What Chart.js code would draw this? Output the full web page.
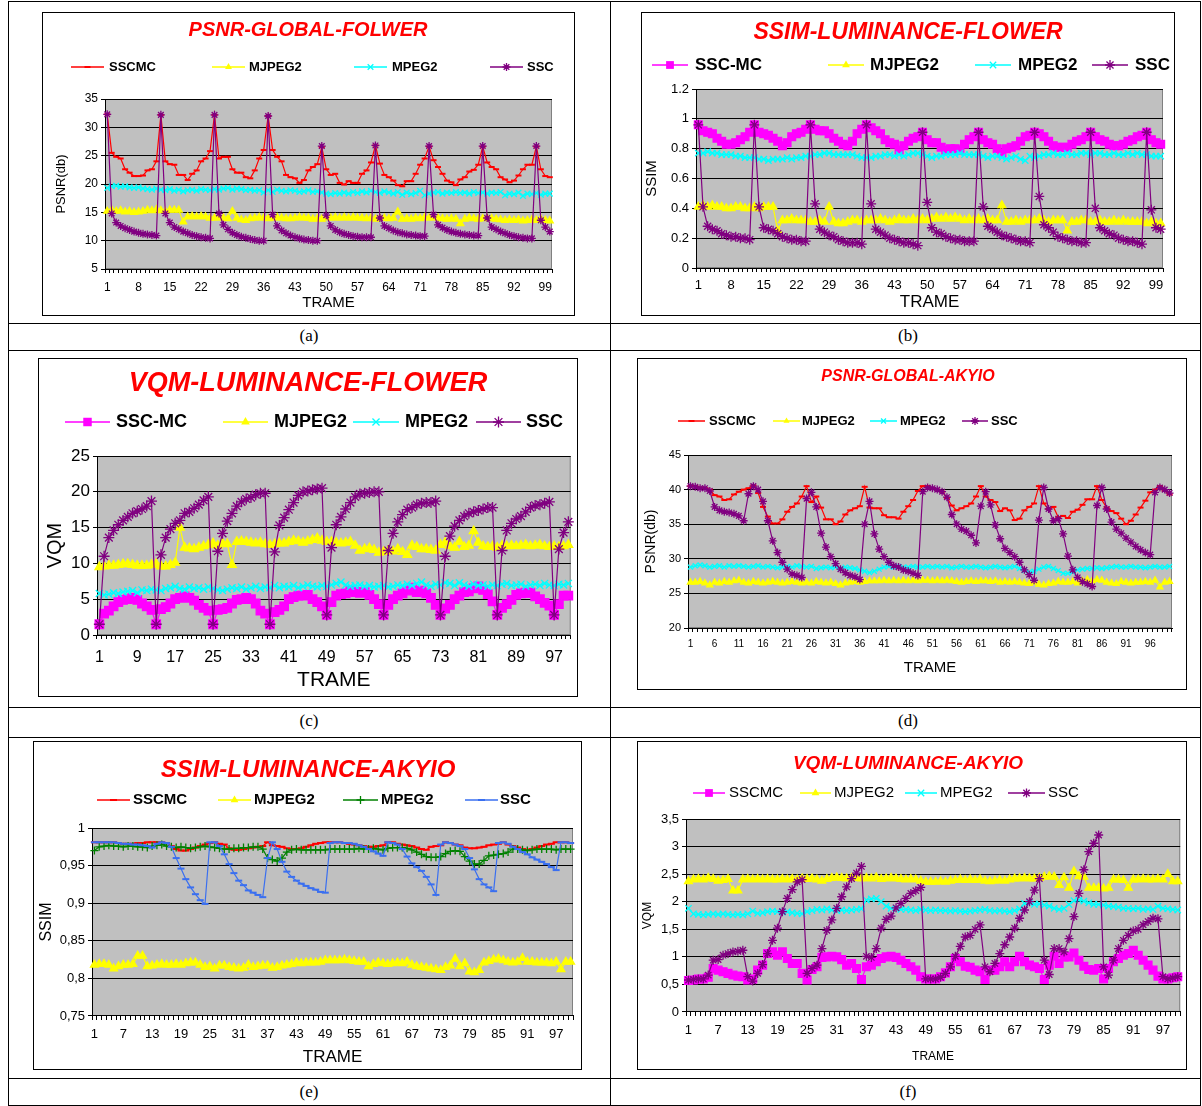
<!DOCTYPE html>
<html>
<head>
<meta charset="utf-8">
<script src="https://cdn.jsdelivr.net/npm/chart.js@4.4.1/dist/chart.umd.min.js"></script>
<style>
body { margin: 0; background: #fff; width: 1202px; height: 1106px; position: relative; overflow: hidden; }
.ln { position: absolute; background: #000; }
.cap { position: absolute; width: 80px; text-align: center; font: 17px "Liberation Serif", serif; }
</style>
</head>
<body>
<script>
const FONT = '"Liberation Sans", Arial, sans-serif';
const frames = Array.from({ length: 100 }, (_, i) => String(i + 1));

// (a) PSNR-GLOBAL-FOLWER
const psnrFlowerSSCMC = [
  32.3, 25.5, 24.8, 24.5, 22.6, 22.0, 21.4, 21.4, 21.5, 22.4, 22.6, 24.0,
  32.2, 24.0, 23.5, 23.4, 21.6, 21.6, 20.7, 21.8, 22.4, 24.0, 24.5, 25.8,
  32.2, 24.5, 24.8, 24.8, 22.6, 22.0, 22.0, 21.2, 21.0, 22.4, 24.5, 26.0,
  32.0, 26.0, 24.8, 24.0, 21.6, 21.2, 21.0, 20.2, 20.7, 22.4, 23.0, 23.5,
  26.5, 22.6, 21.6, 21.8, 20.2, 19.9, 20.5, 20.2, 20.2, 21.8, 22.4, 23.8,
  26.8, 23.6, 21.6, 21.2, 20.6, 19.8, 19.6, 20.5, 20.5, 21.8, 23.4, 24.5,
  26.6, 24.2, 23.0, 21.8, 20.6, 20.3, 19.8, 20.8, 21.2, 22.2, 22.5, 23.4,
  26.6, 23.8, 23.0, 22.6, 21.2, 20.8, 20.3, 20.6, 21.5, 22.6, 23.4, 23.4,
  26.6, 22.6, 21.4, 21.2
];
const psnrFlowerMJPEG2 = [
  15.2, 15.4, 15.2, 15.3, 15.1, 15.2, 15.0, 15.1, 15.2, 15.4,
  15.3, 15.5, 15.3, 15.2, 15.4, 15.4, 15.4, 13.3, 14.2, 14.3,
  14.2, 14.3, 14.2, 14.0, 14.0, 14.1, 14.0, 13.9, 15.2, 14.0,
  13.7, 13.6, 13.9, 14.0, 14.1, 14.0, 13.9, 14.0, 14.1, 14.0,
  13.9, 13.9, 14.0, 14.1, 14.0, 14.0, 13.8, 13.9, 13.8, 14.1,
  14.0, 14.1, 14.0, 14.1, 14.0, 14.1, 14.0, 14.0, 13.9, 14.0,
  13.8, 14.0, 14.0, 13.9, 14.0, 15.1, 13.8, 13.9, 13.8, 14.0,
  13.9, 14.1, 14.0, 14.1, 14.0, 13.9, 13.8, 13.9, 13.8, 13.0,
  13.8, 14.0, 13.9, 13.8, 13.9, 14.0, 13.9, 13.8, 13.7, 13.6,
  13.7, 13.6, 13.7, 13.5, 13.6, 13.7, 13.6, 13.8, 13.6, 13.5
];
const psnrFlowerMPEG2 = [
  19.3, 19.6, 19.7, 19.5, 19.6, 19.4, 19.3, 19.4, 19.2, 19.1,
  19.0, 19.2, 19.0, 18.9, 19.1, 18.8, 19.0, 18.7, 18.9, 19.0,
  18.8, 19.1, 19.0, 18.9, 19.1, 19.0, 19.2, 19.3, 19.0, 19.2,
  19.1, 18.9, 19.0, 18.8, 18.9, 18.5, 18.9, 18.6, 19.0, 18.8,
  18.7, 18.9, 18.8, 18.6, 18.7, 18.9, 18.6, 18.7, 18.5, 18.3,
  18.2, 18.4, 18.3, 18.5, 18.3, 18.6, 18.4, 18.7, 18.5, 18.8,
  18.6, 18.4, 18.7, 18.5, 18.3, 18.6, 18.1, 18.5, 18.2, 18.4,
  18.8, 18.0, 18.3, 18.5, 18.6, 18.3, 18.5, 18.4, 18.6, 18.4,
  18.5, 18.3, 18.6, 18.4, 18.5, 18.3, 18.5, 18.4, 18.6, 18.0,
  18.3, 18.2, 18.5, 17.9, 18.3, 18.2, 18.4, 18.1, 18.3, 18.3
];
const psnrFlowerSSC = [
  32.3, 14.8, 13.2, 12.6, 12.2, 11.9, 11.6, 11.4, 11.2, 11.1, 11.0, 10.9,
  32.2, 14.8, 13.2, 12.4, 12.0, 11.6, 11.3, 11.0, 10.8, 10.6, 10.5, 10.4,
  32.2, 14.8, 12.8, 12.0, 11.4, 11.0, 10.7, 10.5, 10.3, 10.1, 10.0, 10.0,
  32.0, 14.6, 12.6, 11.8, 11.3, 10.9, 10.6, 10.4, 10.2, 10.1, 10.0, 10.0,
  26.7, 14.5, 12.6, 11.9, 11.5, 11.2, 11.0, 10.8, 10.7, 10.6, 10.6, 10.6,
  26.8, 14.0, 12.6, 12.2, 11.8, 11.5, 11.3, 11.1, 11.0, 10.9, 10.8, 10.8,
  26.7, 14.6, 12.8, 12.3, 11.9, 11.6, 11.4, 11.2, 11.1, 11.0, 10.9, 10.9,
  26.7, 14.0, 12.4, 12.0, 11.6, 11.3, 11.0, 10.8, 10.6, 10.5, 10.4, 10.4,
  26.7, 13.6, 12.4, 11.6
];

// (b) SSIM-LUMINANCE-FLOWER
const ssimFlowerSSCMC = [
  0.96, 0.92, 0.91, 0.90, 0.87, 0.85, 0.83, 0.83, 0.84, 0.86, 0.88, 0.91,
  0.96, 0.91, 0.90, 0.89, 0.87, 0.85, 0.82, 0.84, 0.88, 0.90, 0.91, 0.93,
  0.96, 0.93, 0.92, 0.92, 0.90, 0.87, 0.85, 0.83, 0.82, 0.85, 0.90, 0.93,
  0.96, 0.94, 0.92, 0.90, 0.86, 0.84, 0.83, 0.79, 0.82, 0.85, 0.87, 0.88,
  0.91, 0.86, 0.84, 0.84, 0.81, 0.79, 0.80, 0.80, 0.79, 0.83, 0.86, 0.88,
  0.91, 0.86, 0.84, 0.83, 0.80, 0.77, 0.80, 0.81, 0.82, 0.85, 0.88, 0.89,
  0.91, 0.90, 0.88, 0.85, 0.82, 0.81, 0.81, 0.81, 0.83, 0.85, 0.86, 0.88,
  0.91, 0.88, 0.86, 0.85, 0.83, 0.82, 0.82, 0.83, 0.85, 0.86, 0.88, 0.89,
  0.91, 0.86, 0.84, 0.83
];
const ssimFlowerMJPEG2 = [
  0.41, 0.42, 0.41, 0.42, 0.41, 0.41, 0.40, 0.40, 0.41, 0.41,
  0.40, 0.40, 0.41, 0.40, 0.41, 0.41, 0.41, 0.25, 0.32, 0.32,
  0.33, 0.32, 0.32, 0.32, 0.31, 0.31, 0.32, 0.31, 0.41, 0.31,
  0.30, 0.30, 0.31, 0.32, 0.32, 0.31, 0.32, 0.32, 0.32, 0.33,
  0.32, 0.31, 0.32, 0.33, 0.32, 0.32, 0.33, 0.32, 0.33, 0.32,
  0.33, 0.34, 0.33, 0.34, 0.33, 0.34, 0.33, 0.32, 0.33, 0.32,
  0.33, 0.32, 0.33, 0.32, 0.32, 0.42, 0.31, 0.31, 0.32, 0.31,
  0.32, 0.32, 0.32, 0.33, 0.32, 0.31, 0.32, 0.32, 0.32, 0.25,
  0.31, 0.31, 0.32, 0.32, 0.31, 0.31, 0.32, 0.31, 0.31, 0.32,
  0.31, 0.32, 0.31, 0.31, 0.31, 0.31, 0.30, 0.31, 0.30, 0.30
];
const ssimFlowerMPEG2 = [
  0.77, 0.77, 0.78, 0.77, 0.77, 0.76, 0.76, 0.76, 0.75, 0.75,
  0.74, 0.74, 0.74, 0.73, 0.73, 0.72, 0.73, 0.73, 0.73, 0.74,
  0.73, 0.74, 0.74, 0.75, 0.75, 0.76, 0.76, 0.77, 0.77, 0.76,
  0.76, 0.76, 0.76, 0.76, 0.75, 0.74, 0.74, 0.74, 0.75, 0.75,
  0.76, 0.76, 0.75, 0.76, 0.75, 0.76, 0.77, 0.77, 0.76, 0.75,
  0.74, 0.75, 0.75, 0.76, 0.76, 0.76, 0.77, 0.76, 0.76, 0.76,
  0.76, 0.75, 0.74, 0.75, 0.75, 0.74, 0.73, 0.74, 0.75, 0.73,
  0.72, 0.75, 0.74, 0.75, 0.76, 0.76, 0.77, 0.76, 0.76, 0.77,
  0.76, 0.76, 0.77, 0.77, 0.76, 0.77, 0.77, 0.76, 0.76, 0.77,
  0.76, 0.76, 0.77, 0.76, 0.77, 0.76, 0.76, 0.75, 0.75, 0.75
];
const ssimFlowerSSC = [
  0.96, 0.41, 0.28, 0.26, 0.25, 0.23, 0.22, 0.21, 0.21, 0.20, 0.20, 0.19,
  0.96, 0.41, 0.27, 0.26, 0.25, 0.23, 0.21, 0.20, 0.19, 0.19, 0.18, 0.18,
  0.96, 0.43, 0.26, 0.24, 0.22, 0.21, 0.19, 0.18, 0.17, 0.17, 0.17, 0.16,
  0.96, 0.43, 0.26, 0.24, 0.22, 0.20, 0.19, 0.18, 0.17, 0.17, 0.16, 0.15,
  0.91, 0.44, 0.27, 0.24, 0.23, 0.21, 0.20, 0.19, 0.19, 0.18, 0.18, 0.18,
  0.91, 0.41, 0.28, 0.26, 0.24, 0.22, 0.21, 0.20, 0.19, 0.18, 0.18, 0.17,
  0.91, 0.48, 0.29, 0.27, 0.24, 0.21, 0.20, 0.19, 0.18, 0.18, 0.17, 0.17,
  0.91, 0.40, 0.27, 0.25, 0.23, 0.22, 0.20, 0.19, 0.18, 0.18, 0.17, 0.16,
  0.91, 0.39, 0.27, 0.26
];

// (c) VQM-LUMINANCE-FLOWER
const vqmFlowerSSCMC = [
  1.5, 3.0, 3.4, 4.0, 4.6, 4.9, 5.0, 5.2, 4.9, 4.4, 4.0, 3.5,
  1.5, 3.6, 3.9, 4.4, 5.0, 5.2, 5.4, 5.2, 4.8, 4.2, 3.8, 3.4,
  1.5, 3.5, 3.6, 3.8, 4.4, 4.9, 5.0, 5.2, 5.0, 4.4, 3.4, 3.0,
  1.5, 3.2, 3.5, 4.0, 5.0, 5.3, 5.5, 5.5, 5.6, 5.0, 4.6, 4.0,
  2.8, 4.6, 5.5, 5.7, 5.8, 6.2, 6.0, 5.9, 6.0, 5.6, 5.0, 4.3,
  2.8, 4.2, 5.0, 5.5, 5.8, 6.2, 6.6, 6.0, 6.2, 5.8, 5.2, 4.2,
  2.8, 3.7, 4.2, 5.0, 5.5, 6.0, 6.1, 6.5, 6.8, 6.3, 5.7, 4.7,
  2.8, 3.8, 4.3, 4.9, 5.6, 5.8, 5.9, 5.9, 5.4, 5.0, 4.5, 4.1,
  2.8, 4.3, 5.5, 5.5
];
const vqmFlowerMJPEG2 = [
  9.5, 9.6, 9.7, 9.7, 9.8, 9.9, 9.9, 9.8, 9.7, 9.7,
  9.7, 9.8, 9.9, 9.6, 9.6, 9.8, 10.1, 15.0, 12.2, 12.1,
  12.0, 12.2, 12.4, 12.6, 12.8, 12.5, 12.8, 12.7, 9.8, 13.0,
  13.1, 13.0, 12.9, 12.8, 12.9, 12.7, 12.6, 12.7, 12.8, 12.8,
  13.0, 13.2, 13.1, 12.9, 13.1, 13.3, 13.5, 13.2, 13.0, 13.0,
  12.9, 12.8, 12.9, 13.0, 12.5, 11.8, 12.0, 12.1, 11.9, 11.5,
  11.6, 11.8, 11.7, 12.0, 11.6, 11.2, 12.5, 12.3, 12.0, 12.0,
  11.9, 11.8, 12.6, 12.9, 12.4, 12.2, 13.0, 12.3, 12.5, 14.5,
  12.9, 12.4, 12.3, 12.4, 12.2, 12.5, 12.4, 12.5, 12.4, 12.5,
  12.6, 12.4, 12.5, 12.6, 12.4, 12.3, 12.4, 12.3, 12.4, 12.6
];
const vqmFlowerMPEG2 = [
  5.8, 5.6, 5.7, 5.9, 5.8, 6.0, 6.1, 6.2, 5.9, 6.3,
  6.2, 6.4, 6.3, 6.2, 6.5, 6.6, 6.8, 6.5, 6.4, 6.7,
  6.5, 6.6, 6.4, 6.7, 6.5, 6.3, 6.2, 6.4, 6.6, 6.5,
  6.7, 6.4, 6.6, 6.8, 6.5, 6.7, 6.6, 6.9, 6.6, 6.8,
  6.7, 6.9, 6.6, 6.8, 7.0, 6.8, 6.7, 6.9, 6.8, 7.0,
  7.2, 7.4, 7.0, 6.8, 6.9, 7.0, 6.8, 6.9, 6.7, 6.8,
  6.9, 6.7, 6.8, 7.0, 6.9, 7.1, 6.9, 7.2, 7.4, 7.0,
  6.8, 7.1, 7.0, 7.3, 7.2, 6.9, 7.3, 7.0, 6.8, 7.1,
  6.9, 7.0, 6.8, 7.0, 6.9, 7.1, 7.2, 6.9, 7.0, 7.1,
  6.8, 7.0, 7.1, 6.9, 7.2, 7.0, 6.9, 7.1, 7.0, 7.2
];
const vqmFlowerSSC = [
  1.5, 11.0, 13.6, 14.6, 15.4, 16.0, 16.5, 17.0, 17.3, 17.6, 18.0, 18.7,
  1.5, 11.2, 13.6, 14.8, 15.6, 16.0, 17.0, 17.2, 17.7, 18.2, 18.8, 19.3,
  1.5, 11.7, 14.2, 15.9, 17.0, 18.0, 18.6, 19.0, 19.2, 19.6, 19.8, 19.8,
  1.5, 11.6, 15.3, 16.4, 17.5, 18.5, 19.5, 20.0, 20.1, 20.3, 20.4, 20.5,
  2.8, 12.2, 15.4, 16.5, 17.6, 18.5, 19.3, 19.7, 19.8, 19.9, 20.0, 20.0,
  2.8, 11.8, 14.2, 15.8, 16.8, 17.5, 17.8, 18.2, 18.4, 18.5, 18.5, 18.7,
  2.8, 11.0, 13.8, 15.2, 16.0, 16.6, 17.0, 17.2, 17.4, 17.6, 17.8, 17.8,
  2.8, 11.8, 14.6, 15.6, 16.2, 16.6, 17.2, 17.8, 18.1, 18.2, 18.4, 18.6,
  2.8, 12.0, 14.3, 15.8
];

// (d) PSNR-GLOBAL-AKYIO
const psnrAkyioSSCMC = [
  40.5, 40.5, 40.3, 40.2, 40.0, 39.2, 39.0, 38.5, 38.6, 39.3,
  39.7, 40.0, 40.2, 40.6, 39.5, 37.5, 36.1, 35.1, 35.1, 35.7,
  36.8, 37.5, 38.0, 39.0, 40.5, 38.2, 39.0, 37.4, 35.7, 35.7,
  35.0, 35.4, 36.4, 37.0, 37.3, 37.6, 40.4, 37.4, 37.3, 37.3,
  36.3, 36.0, 36.0, 35.8, 36.8, 37.6, 38.5, 39.8, 40.5, 40.5,
  40.2, 40.0, 39.7, 38.8, 37.7, 37.0, 37.3, 37.6, 38.0, 39.0,
  40.5, 39.0, 38.5, 38.2, 36.9, 37.3, 37.0, 35.6, 35.8, 37.0,
  37.5, 38.0, 40.5, 38.0, 37.2, 37.5, 36.0, 36.2, 35.9, 36.8,
  37.1, 37.8, 38.6, 38.6, 40.5, 38.5, 37.4, 36.9, 36.6, 35.8,
  35.0, 35.5, 36.4, 37.4, 38.4, 39.6, 40.0, 40.5, 39.8, 39.3
];
const psnrAkyioMJPEG2 = [
  26.6, 26.6, 26.7, 26.5, 26.2, 26.6, 26.5, 26.7, 26.6, 26.8,
  26.9, 26.6, 26.5, 26.7, 26.6, 26.5, 26.6, 26.7, 26.6, 26.5,
  26.6, 26.7, 26.6, 26.5, 26.6, 26.5, 26.7, 26.6, 26.5, 26.6,
  26.4, 26.2, 26.5, 26.6, 26.7, 26.6, 26.7, 26.8, 26.8, 26.8,
  26.9, 26.8, 26.9, 26.8, 26.9, 26.8, 26.9, 26.8, 26.9, 26.9,
  26.8, 26.9, 26.8, 26.9, 26.8, 26.7, 26.6, 26.7, 26.8, 26.7,
  26.8, 26.8, 26.7, 26.8, 26.6, 26.7, 26.6, 26.7, 26.6, 26.5,
  26.4, 26.6, 26.3, 26.2, 26.4, 26.5, 26.7, 26.6, 26.6, 26.7,
  26.5, 26.8, 27.0, 26.8, 27.0, 26.9, 26.6, 26.5, 26.4, 26.7,
  26.6, 26.5, 26.6, 26.6, 26.7, 26.6, 26.9, 25.9, 26.6, 26.7
];
const psnrAkyioMPEG2 = [
  28.8, 29.0, 29.1, 29.0, 28.8, 28.9, 29.0, 28.8, 29.0, 28.9,
  29.0, 28.9, 28.8, 28.9, 29.0, 28.8, 28.9, 28.8, 28.7, 28.8,
  28.9, 28.8, 29.0, 28.9, 28.8, 28.9, 28.6, 28.7, 28.8, 28.7,
  28.8, 28.6, 28.8, 28.7, 28.6, 28.4, 28.2, 28.0, 28.2, 28.5,
  28.8, 28.9, 28.8, 28.9, 28.8, 28.8, 28.9, 28.8, 28.8, 28.9,
  28.8, 28.9, 28.8, 28.9, 28.7, 28.8, 28.9, 28.8, 28.8, 28.9,
  28.8, 28.7, 28.8, 28.9, 28.8, 28.7, 28.8, 28.9, 28.6, 28.3,
  28.1, 28.2, 28.5, 28.8, 28.9, 28.6, 28.3, 27.9, 27.9, 28.1,
  28.4, 28.5, 28.6, 28.6, 28.7, 28.6, 28.7, 28.8, 28.9, 28.8,
  28.8, 28.9, 28.8, 28.8, 28.7, 28.8, 28.9, 28.8, 28.8, 28.9
];
const psnrAkyioSSC = [
  40.5, 40.4, 40.2, 40.2, 39.8, 37.5, 37.0, 36.8, 36.7, 36.5,
  36.2, 35.5, 39.4, 40.5, 40.0, 38.3, 35.5, 32.6, 30.9, 29.5,
  28.5, 27.8, 27.6, 27.3, 38.7, 39.6, 37.5, 33.7, 31.7, 30.3,
  29.3, 28.5, 28.0, 27.6, 27.4, 27.0, 35.0, 38.3, 33.6, 31.4,
  30.3, 29.5, 29.0, 28.8, 28.4, 28.2, 27.9, 27.6, 39.7, 40.3,
  40.2, 40.0, 39.7, 38.9, 36.4, 35.0, 34.3, 34.0, 33.4, 32.3,
  37.6, 39.7, 37.8, 34.9, 32.9, 31.5, 30.9, 30.3, 29.5, 28.4,
  27.7, 26.9, 35.6, 40.3, 37.2, 35.5, 35.8, 33.6, 30.4, 28.4,
  27.3, 26.7, 26.4, 26.0, 37.7, 40.3, 37.2, 35.3, 34.3, 33.7,
  33.0, 32.4, 31.8, 31.3, 30.9, 30.6, 39.6, 40.3, 40.0, 39.5
];

// (e) SSIM-LUMINANCE-AKYIO
const ssimAkyioSSCMC = [
  0.981, 0.981, 0.981, 0.981, 0.981, 0.980, 0.979, 0.979, 0.979, 0.980,
  0.980, 0.981, 0.981, 0.981, 0.981, 0.980, 0.976, 0.972, 0.970, 0.970,
  0.972, 0.974, 0.976, 0.978, 0.980, 0.981, 0.979, 0.978, 0.973, 0.971,
  0.971, 0.972, 0.973, 0.974, 0.975, 0.976, 0.981, 0.977, 0.976, 0.975,
  0.973, 0.972, 0.972, 0.973, 0.975, 0.977, 0.979, 0.980, 0.981, 0.981,
  0.981, 0.981, 0.980, 0.979, 0.978, 0.977, 0.976, 0.975, 0.975, 0.976,
  0.977, 0.981, 0.981, 0.979, 0.978, 0.977, 0.976, 0.974, 0.972, 0.971,
  0.975, 0.976, 0.977, 0.981, 0.980, 0.978, 0.977, 0.974, 0.973, 0.973,
  0.974, 0.975, 0.977, 0.978, 0.979, 0.981, 0.978, 0.976, 0.974, 0.972,
  0.971, 0.972, 0.974, 0.976, 0.978, 0.979, 0.981, 0.981, 0.981, 0.980
];
const ssimAkyioMJPEG2 = [
  0.818, 0.819, 0.819, 0.818, 0.813, 0.816, 0.818, 0.818, 0.819, 0.830,
  0.830, 0.816, 0.817, 0.818, 0.819, 0.818, 0.818, 0.819, 0.818, 0.820,
  0.821, 0.821, 0.818, 0.815, 0.816, 0.813, 0.817, 0.817, 0.815, 0.814,
  0.813, 0.814, 0.818, 0.815, 0.816, 0.817, 0.817, 0.814, 0.815, 0.817,
  0.818, 0.819, 0.821, 0.820, 0.821, 0.821, 0.821, 0.822, 0.824, 0.824,
  0.824, 0.824, 0.825, 0.824, 0.823, 0.822, 0.822, 0.816, 0.819, 0.821,
  0.820, 0.819, 0.820, 0.821, 0.820, 0.822, 0.818, 0.816, 0.815, 0.814,
  0.813, 0.812, 0.811, 0.815, 0.817, 0.826, 0.816, 0.820, 0.809, 0.808,
  0.811, 0.821, 0.823, 0.825, 0.826, 0.824, 0.822, 0.821, 0.822, 0.827,
  0.822, 0.822, 0.821, 0.821, 0.821, 0.820, 0.822, 0.812, 0.822, 0.822
];
const ssimAkyioMPEG2 = [
  0.970, 0.975, 0.976, 0.977, 0.976, 0.976, 0.975, 0.976, 0.976, 0.975,
  0.975, 0.974, 0.976, 0.977, 0.978, 0.976, 0.975, 0.974, 0.975, 0.974,
  0.973, 0.974, 0.975, 0.976, 0.975, 0.974, 0.973, 0.972, 0.972, 0.973,
  0.973, 0.974, 0.974, 0.975, 0.975, 0.972, 0.960, 0.958, 0.956, 0.960,
  0.968, 0.971, 0.972, 0.971, 0.971, 0.971, 0.971, 0.971, 0.971, 0.972,
  0.972, 0.972, 0.972, 0.972, 0.972, 0.973, 0.972, 0.972, 0.973, 0.972,
  0.971, 0.973, 0.974, 0.974, 0.974, 0.973, 0.971, 0.968, 0.965, 0.962,
  0.961, 0.961, 0.962, 0.966, 0.969, 0.970, 0.969, 0.962, 0.956, 0.952,
  0.952, 0.957, 0.963, 0.964, 0.965, 0.966, 0.968, 0.972, 0.972, 0.971,
  0.970, 0.971, 0.972, 0.972, 0.972, 0.972, 0.971, 0.972, 0.972, 0.972
];
const ssimAkyioSSC = [
  0.981, 0.981, 0.981, 0.981, 0.981, 0.980, 0.979, 0.979, 0.978, 0.978,
  0.977, 0.976, 0.974, 0.979, 0.981, 0.980, 0.975, 0.960, 0.946, 0.932,
  0.921, 0.912, 0.904, 0.899, 0.981, 0.981, 0.976, 0.965, 0.952, 0.940,
  0.930, 0.924, 0.917, 0.914, 0.911, 0.908, 0.960, 0.981, 0.972, 0.955,
  0.942, 0.935, 0.930, 0.926, 0.923, 0.920, 0.918, 0.915, 0.914, 0.980,
  0.981, 0.981, 0.980, 0.980, 0.979, 0.977, 0.975, 0.972, 0.969, 0.966,
  0.963, 0.981, 0.980, 0.978, 0.972, 0.962, 0.953, 0.948, 0.943, 0.935,
  0.925, 0.911, 0.978, 0.981, 0.980, 0.978, 0.976, 0.972, 0.960, 0.945,
  0.932, 0.925, 0.921, 0.916, 0.980, 0.981, 0.979, 0.975, 0.972, 0.968,
  0.965, 0.961, 0.958, 0.955, 0.952, 0.948, 0.944, 0.981, 0.981, 0.980
];

// (f) VQM-LUMINANCE-AKYIO
const vqmAkyioSSCMC = [
  0.57, 0.58, 0.60, 0.60, 0.63, 0.79, 0.76, 0.73, 0.70, 0.67,
  0.65, 0.64, 0.58, 0.60, 0.76, 0.85, 1.06, 1.09, 1.03, 1.09,
  0.97, 0.88, 0.88, 0.70, 0.58, 0.77, 0.82, 0.99, 1.00, 1.01,
  1.00, 0.95, 0.85, 0.88, 0.79, 0.59, 0.82, 0.85, 0.91, 0.97,
  1.00, 1.01, 0.99, 0.94, 0.88, 0.82, 0.76, 0.64, 0.60, 0.60,
  0.60, 0.64, 0.71, 0.82, 0.97, 0.91, 0.83, 0.81, 0.76, 0.73,
  0.59, 0.76, 0.76, 0.82, 0.91, 0.82, 0.91, 1.01, 0.91, 0.85,
  0.82, 0.79, 0.59, 0.85, 1.01, 0.88, 1.00, 1.00, 1.07, 0.94,
  0.83, 0.77, 0.76, 0.79, 0.60, 0.79, 0.91, 0.97, 1.03, 1.06,
  1.12, 1.03, 0.94, 0.85, 0.76, 0.65, 0.60, 0.60, 0.62, 0.64
];
const vqmAkyioMJPEG2 = [
  2.37, 2.40, 2.41, 2.40, 2.43, 2.41, 2.38, 2.39, 2.41, 2.20,
  2.20, 2.40, 2.41, 2.40, 2.41, 2.40, 2.41, 2.40, 2.40, 2.41,
  2.40, 2.41, 2.40, 2.42, 2.41, 2.42, 2.40, 2.38, 2.41, 2.43,
  2.44, 2.43, 2.42, 2.43, 2.43, 2.42, 2.43, 2.42, 2.44, 2.41,
  2.42, 2.43, 2.42, 2.41, 2.40, 2.41, 2.40, 2.38, 2.36, 2.36,
  2.36, 2.37, 2.36, 2.38, 2.39, 2.40, 2.39, 2.40, 2.39, 2.40,
  2.38, 2.37, 2.38, 2.39, 2.38, 2.40, 2.42, 2.42, 2.43, 2.42,
  2.42, 2.43, 2.45, 2.46, 2.45, 2.30, 2.44, 2.25, 2.55, 2.46,
  2.45, 2.25, 2.25, 2.25, 2.24, 2.25, 2.40, 2.40, 2.39, 2.25,
  2.40, 2.40, 2.41, 2.40, 2.40, 2.41, 2.40, 2.50, 2.37, 2.37
];
const vqmAkyioMPEG2 = [
  1.88, 1.78, 1.77, 1.76, 1.77, 1.78, 1.77, 1.78, 1.77, 1.76,
  1.77, 1.76, 1.78, 1.83, 1.79, 1.80, 1.82, 1.83, 1.82, 1.81,
  1.82, 1.80, 1.79, 1.78, 1.82, 1.84, 1.86, 1.85, 1.87, 1.85,
  1.84, 1.85, 1.84, 1.85, 1.86, 1.87, 2.03, 2.05, 2.06, 2.00,
  1.92, 1.88, 1.87, 1.86, 1.86, 1.85, 1.84, 1.86, 1.85, 1.84,
  1.85, 1.84, 1.84, 1.83, 1.84, 1.83, 1.82, 1.83, 1.84, 1.85,
  1.86, 1.84, 1.83, 1.84, 1.83, 1.82, 1.84, 1.87, 1.97, 1.98,
  1.95, 1.96, 1.94, 1.92, 1.88, 1.86, 1.88, 1.95, 2.02, 2.03,
  2.01, 1.98, 1.95, 1.95, 1.94, 1.92, 1.91, 1.90, 1.88, 1.88,
  1.87, 1.88, 1.86, 1.87, 1.86, 1.92, 1.88, 1.87, 1.86, 1.85
];
const vqmAkyioSSC = [
  0.58, 0.59, 0.60, 0.60, 0.67, 0.94, 0.95, 1.03, 1.06, 1.09,
  1.10, 1.12, 0.64, 0.56, 0.70, 0.86, 1.06, 1.30, 1.52, 1.82,
  2.06, 2.22, 2.36, 2.40, 0.70, 0.79, 0.85, 1.15, 1.48, 1.67,
  1.88, 2.09, 2.27, 2.42, 2.52, 2.64, 1.01, 0.99, 1.15, 1.52,
  1.68, 1.74, 1.89, 1.97, 2.06, 2.15, 2.20, 2.26, 0.60, 0.60,
  0.60, 0.63, 0.70, 0.82, 1.01, 1.19, 1.36, 1.39, 1.50, 1.58,
  0.82, 0.73, 0.88, 1.06, 1.22, 1.36, 1.52, 1.70, 1.85, 2.00,
  2.21, 2.42, 0.94, 0.68, 1.15, 1.15, 1.09, 1.33, 1.73, 2.15,
  2.58, 2.91, 3.06, 3.21, 0.82, 0.67, 0.94, 1.15, 1.30, 1.39,
  1.47, 1.50, 1.58, 1.64, 1.70, 1.69, 0.64, 0.60, 0.62, 0.64
];

const RED = '#FF0000', YELLOW = '#FFFF00', CYAN = '#00FFFF', PURPLE = '#800080',
      MAGENTA = '#FF00FF', GREEN = '#008000', BLUE = '#3A6FF0';

const fmtInt = v => String(Math.round(v));
const fmtDot = v => String(Math.round(v * 10) / 10);
const fmtComma = v => String(Math.round(v * 100) / 100).replace('.', ',');

// positions are page pixels, measured on the scanned figure
const charts = [
  {
    box: [42, 12, 533, 304], plot: [105, 99, 552, 269],
    title: 'PSNR-GLOBAL-FOLWER', titleX: 308, titleY: 30, titleSize: 20,
    legendY: 67, legendSize: 13, legendBold: true,
    legend: [[71, 104, 109], [212, 245, 249], [354, 387, 392], [490, 523, 527]],
    yMin: 5, yMax: 35, yStep: 5, fmt: fmtInt, yTickSize: 12,
    yTitle: 'PSNR(db)', yTitleX: 61, yTitleSize: 13,
    xStep: 7, xTickSize: 12, xLabelY: 288, xTitleY: 303, xTitleSize: 15, r: 3.5,
    series: [
      { label: 'SSCMC', data: psnrFlowerSSCMC, color: RED, style: 'line', r: 3 },
      { label: 'MJPEG2', data: psnrFlowerMJPEG2, color: YELLOW, style: 'triangle', r: 4 },
      { label: 'MPEG2', data: psnrFlowerMPEG2, color: CYAN, style: 'crossRot', r: 4 },
      { label: 'SSC', data: psnrFlowerSSC, color: PURPLE, style: 'star', r: 4 }
    ]
  },
  {
    box: [641, 12, 534, 304], plot: [696, 89, 1163, 268],
    title: 'SSIM-LUMINANCE-FLOWER', titleX: 908, titleY: 33, titleSize: 23,
    legendY: 65, legendSize: 17, legendBold: true,
    legend: [[652, 688, 695], [828, 864, 870], [975, 1011, 1018], [1092, 1128, 1135]],
    yMin: 0, yMax: 1.2, yStep: 0.2, fmt: fmtDot, yTickSize: 13,
    yTitle: 'SSIM', yTitleX: 652, yTitleSize: 15,
    xStep: 7, xTickSize: 13, xLabelY: 285, xTitleY: 302, xTitleSize: 17, r: 4.5,
    series: [
      { label: 'SSC-MC', data: ssimFlowerSSCMC, color: MAGENTA, style: 'rect', r: 5.5 },
      { label: 'MJPEG2', data: ssimFlowerMJPEG2, color: YELLOW, style: 'triangle' },
      { label: 'MPEG2', data: ssimFlowerMPEG2, color: CYAN, style: 'crossRot' },
      { label: 'SSC', data: ssimFlowerSSC, color: PURPLE, style: 'star', r: 5 }
    ]
  },
  {
    box: [38, 358, 540, 339], plot: [97, 456, 571, 635],
    title: 'VQM-LUMINANCE-FLOWER', titleX: 308, titleY: 384, titleSize: 27,
    legendY: 422, legendSize: 18, legendBold: true,
    legend: [[65, 110, 116], [223, 268, 274], [353, 399, 405], [476, 521, 526]],
    yMin: 0, yMax: 25, yStep: 5, fmt: fmtInt, yTickSize: 17,
    yTitle: 'VQM', yTitleX: 55, yTitleSize: 20,
    xStep: 8, xTickSize: 16, xLabelY: 658, xTitleY: 680, xTitleSize: 21, r: 5,
    series: [
      { label: 'SSC-MC', data: vqmFlowerSSCMC, color: MAGENTA, style: 'rect', r: 6 },
      { label: 'MJPEG2', data: vqmFlowerMJPEG2, color: YELLOW, style: 'triangle' },
      { label: 'MPEG2', data: vqmFlowerMPEG2, color: CYAN, style: 'crossRot' },
      { label: 'SSC', data: vqmFlowerSSC, color: PURPLE, style: 'star', r: 5.5 }
    ]
  },
  {
    box: [637, 358, 550, 332], plot: [688, 455, 1172, 628],
    title: 'PSNR-GLOBAL-AKYIO', titleX: 908, titleY: 377, titleSize: 16,
    legendY: 421, legendSize: 13, legendBold: true,
    legend: [[678, 705, 709], [773, 800, 802], [870, 897, 900], [962, 988, 991]],
    yMin: 20, yMax: 45, yStep: 5, fmt: fmtInt, yTickSize: 11,
    yTitle: 'PSNR(db)', yTitleX: 651, yTitleSize: 14,
    xStep: 5, xTickSize: 10, xLabelY: 644, xTitleY: 668, xTitleSize: 15, r: 3.5,
    series: [
      { label: 'SSCMC', data: psnrAkyioSSCMC, color: RED, style: 'line', r: 3 },
      { label: 'MJPEG2', data: psnrAkyioMJPEG2, color: YELLOW, style: 'triangle' },
      { label: 'MPEG2', data: psnrAkyioMPEG2, color: CYAN, style: 'crossRot' },
      { label: 'SSC', data: psnrAkyioSSC, color: PURPLE, style: 'star', r: 4 }
    ]
  },
  {
    box: [33, 741, 549, 329], plot: [92, 828, 573, 1016],
    title: 'SSIM-LUMINANCE-AKYIO', titleX: 308, titleY: 770, titleSize: 24,
    legendY: 800, legendSize: 15, legendBold: true,
    legend: [[97, 130, 133], [218, 251, 254], [343, 378, 381], [465, 498, 500]],
    yMin: 0.75, yMax: 1, yStep: 0.05, fmt: fmtComma, yTickSize: 13,
    yTitle: 'SSIM', yTitleX: 47, yTitleSize: 16,
    xStep: 6, xTickSize: 13, xLabelY: 1034, xTitleY: 1057, xTitleSize: 17, r: 3.5,
    series: [
      { label: 'SSCMC', data: ssimAkyioSSCMC, color: RED, style: 'line' },
      { label: 'MJPEG2', data: ssimAkyioMJPEG2, color: YELLOW, style: 'triangle', r: 4.5 },
      { label: 'MPEG2', data: ssimAkyioMPEG2, color: GREEN, style: 'cross', r: 4 },
      { label: 'SSC', data: ssimAkyioSSC, color: BLUE, style: 'line' }
    ]
  },
  {
    box: [637, 741, 550, 329], plot: [686, 819, 1182, 1012],
    title: 'VQM-LUMINANCE-AKYIO', titleX: 908, titleY: 764, titleSize: 19,
    legendY: 793, legendSize: 15, legendBold: false,
    legend: [[693, 725, 729], [800, 831, 834], [905, 937, 940], [1008, 1045, 1048]],
    yMin: 0, yMax: 3.5, yStep: 0.5, fmt: fmtComma, yTickSize: 13,
    yTitle: 'VQM', yTitleX: 648, yTitleSize: 12,
    xStep: 6, xTickSize: 13, xLabelY: 1030, xTitleY: 1057, xTitleSize: 12, r: 4.5,
    series: [
      { label: 'SSCMC', data: vqmAkyioSSCMC, color: MAGENTA, style: 'rect', r: 5.5 },
      { label: 'MJPEG2', data: vqmAkyioMJPEG2, color: YELLOW, style: 'triangle' },
      { label: 'MPEG2', data: vqmAkyioMPEG2, color: CYAN, style: 'crossRot' },
      { label: 'SSC', data: vqmAkyioSSC, color: PURPLE, style: 'star' }
    ]
  }
];

// marker for the hand-drawn legend, same shapes as chart.js point styles
function drawMarker(ctx, style, x, y, r, color) {
  ctx.save();
  ctx.fillStyle = color;
  ctx.strokeStyle = color;
  ctx.lineWidth = style === 'line' ? 2 : 1.3;
  ctx.beginPath();
  if (style === 'rect') {
    const s = r * Math.SQRT1_2;
    ctx.rect(x - s, y - s, 2 * s, 2 * s);
    ctx.fill();
  } else if (style === 'triangle') {
    for (let k = 0; k < 3; k++) {
      const a = k * 2 * Math.PI / 3;
      const px = x + Math.sin(a) * r, py = y - Math.cos(a) * r;
      k ? ctx.lineTo(px, py) : ctx.moveTo(px, py);
    }
    ctx.closePath();
    ctx.fill();
  } else if (style === 'line') {
    ctx.moveTo(x - r, y); ctx.lineTo(x + r, y);
    ctx.stroke();
  } else {
    const d = r * Math.SQRT1_2;
    if (style === 'crossRot' || style === 'star') {
      ctx.moveTo(x - d, y - d); ctx.lineTo(x + d, y + d);
      ctx.moveTo(x - d, y + d); ctx.lineTo(x + d, y - d);
    }
    if (style === 'cross' || style === 'star') {
      ctx.moveTo(x, y - r); ctx.lineTo(x, y + r);
      ctx.moveTo(x - r, y); ctx.lineTo(x + r, y);
    }
    ctx.stroke();
  }
  ctx.restore();
}

function framePlugin(c) {
  const ox = c.box[0], oy = c.box[1];
  return {
    id: 'frame',
    beforeDraw(chart) {
      const { ctx, chartArea: a, width, height } = chart;
      ctx.save();
      ctx.fillStyle = '#fff';
      ctx.fillRect(0, 0, width, height);
      ctx.strokeStyle = '#000';
      ctx.lineWidth = 1;
      ctx.strokeRect(0.5, 0.5, width - 1, height - 1);
      ctx.fillStyle = '#C0C0C0';
      ctx.fillRect(a.left, a.top, a.right - a.left, a.bottom - a.top);
      ctx.strokeStyle = '#808080';
      ctx.strokeRect(a.left + 0.5, a.top + 0.5, a.right - a.left - 1, a.bottom - a.top - 1);

      ctx.fillStyle = RED;
      ctx.font = `italic bold ${c.titleSize}px ${FONT}`;
      ctx.textAlign = 'center';
      ctx.textBaseline = 'middle';
      ctx.fillText(c.title, c.titleX - ox, c.titleY - oy);

      ctx.font = `${c.legendBold ? 'bold ' : ''}${c.legendSize}px ${FONT}`;
      ctx.textAlign = 'left';
      c.series.forEach((s, i) => {
        const [x1, x2, tx] = c.legend[i];
        const y = c.legendY - oy;
        ctx.strokeStyle = s.color;
        ctx.lineWidth = 1.5;
        ctx.beginPath();
        ctx.moveTo(x1 - ox, y);
        ctx.lineTo(x2 - ox, y);
        ctx.stroke();
        drawMarker(ctx, s.style, (x1 + x2) / 2 - ox, y, s.r || c.r, s.color);
        ctx.fillStyle = '#000';
        ctx.fillText(s.label, tx - ox, y);
      });
      ctx.restore();
    }
  };
}

function build(c) {
  const [bx, by, bw, bh] = c.box;
  const [pl, pt, pr, pb] = c.plot;
  const cv = document.createElement('canvas');
  cv.width = bw;
  cv.height = bh;
  cv.style.cssText = `position:absolute;left:${bx}px;top:${by}px;width:${bw}px;height:${bh}px`;
  document.body.appendChild(cv);

  const yLH = c.yTitleSize * 1.2, xLH = c.xTitleSize * 1.2;
  const padL = c.yTitleX - bx - yLH / 2;
  const padB = by + bh - c.xTitleY - xLH / 2;
  const yW = pl - bx - padL;
  const xH = by + bh - padB - pb;
  const xPad = c.xLabelY - pb - 4 - c.xTickSize * 0.6;
  const n = c.series.length;

  new Chart(cv, {
    type: 'line',
    data: {
      labels: frames,
      datasets: c.series.map((s, i) => ({
        label: s.label,
        data: s.data,
        borderColor: s.color,
        backgroundColor: s.color,
        borderWidth: 1.2,
        pointStyle: s.style,
        pointRadius: s.r || c.r,
        pointBorderWidth: s.style === 'line' ? 2 : 1.3,
        pointBackgroundColor: s.color,
        pointBorderColor: s.color,
        tension: 0,
        order: n - i
      }))
    },
    options: {
      responsive: false,
      animation: false,
      devicePixelRatio: 1,
      events: [],
      layout: { padding: { left: padL, top: pt - by, right: bx + bw - pr, bottom: padB } },
      plugins: { legend: { display: false }, title: { display: false }, tooltip: { enabled: false } },
      scales: {
        x: {
          type: 'category',
          offset: true,
          grid: { offset: true, drawOnChartArea: false, drawTicks: true, tickLength: 4, color: '#000' },
          border: { color: '#000' },
          ticks: {
            autoSkip: false, maxRotation: 0, minRotation: 0, color: '#000', padding: xPad,
            font: { family: FONT, size: c.xTickSize },
            callback: (v, i) => (i % c.xStep === 0 ? frames[i] : '')
          },
          title: { display: true, text: 'TRAME', color: '#000', padding: 0, font: { family: FONT, size: c.xTitleSize } },
          afterFit: s => { s.height = xH; }
        },
        y: {
          min: c.yMin,
          max: c.yMax,
          grid: { color: '#000', lineWidth: 1, tickLength: 4 },
          border: { color: '#000' },
          ticks: {
            stepSize: c.yStep, color: '#000', padding: 3,
            font: { family: FONT, size: c.yTickSize },
            callback: v => c.fmt(v)
          },
          title: { display: true, text: c.yTitle, color: '#000', padding: 0, font: { family: FONT, size: c.yTitleSize } },
          afterFit: s => { s.width = yW; }
        }
      }
    },
    plugins: [framePlugin(c)]
  });
}

// table rules around the six panels
function rule(x, y, w, h) {
  const d = document.createElement('div');
  d.className = 'ln';
  d.style.cssText = `left:${x}px;top:${y}px;width:${w}px;height:${h}px`;
  document.body.appendChild(d);
}
[1, 323, 350, 707, 737, 1078, 1105].forEach(y => rule(8, y, 1193, 1));
[8, 610, 1200].forEach(x => rule(x, 1, 1, 1105));

[['(a)', 309, 336], ['(b)', 908, 336], ['(c)', 309, 721], ['(d)', 908, 721], ['(e)', 309, 1092], ['(f)', 908, 1092]]
  .forEach(([t, x, y]) => {
    const d = document.createElement('div');
    d.className = 'cap';
    d.style.left = (x - 40) + 'px';
    d.style.top = (y - 10) + 'px';
    d.textContent = t;
    document.body.appendChild(d);
  });

charts.forEach(build);
</script>
</body>
</html>
